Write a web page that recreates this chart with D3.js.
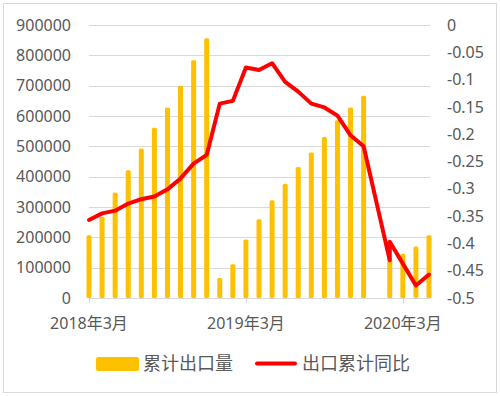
<!DOCTYPE html>
<html>
<head>
<meta charset="utf-8">
<script src="https://cdn.jsdelivr.net/npm/d3@7"></script>
<style>
  body { margin: 0; background: #fff; }
  svg text { font-family: "Noto Sans", "Noto Sans CJK SC", sans-serif; fill: #595959; }
</style>
</head>
<body>
<div id="chart"></div>
<script>
// months on the x axis (Excel date axis, one point per month)
const months = ["2018-03", "2018-04", "2018-05", "2018-06", "2018-07", "2018-08", "2018-09",
  "2018-10", "2018-11", "2018-12", "2019-01", "2019-02", "2019-03", "2019-04", "2019-05",
  "2019-06", "2019-07", "2019-08", "2019-09", "2019-10", "2019-11", "2019-12", "2020-01",
  "2020-02", "2020-03", "2020-04", "2020-05"];

// 累计出口量 (no value for 2020-01)
const exportTotal = [207000, 268000, 348000, 421000, 493000, 561000, 628000, 700000, 784000,
  856000, 66000, 111000, 193000, 260000, 322000, 377000, 432000, 480000, 531000, 586000,
  628000, 667000, null, 132000, 146000, 170000, 207000];

// 出口累计同比 (2020-02 appears twice in the source series)
const yoyMonths = ["2018-03", "2018-04", "2018-05", "2018-06", "2018-07", "2018-08", "2018-09",
  "2018-10", "2018-11", "2018-12", "2019-01", "2019-02", "2019-03", "2019-04", "2019-05",
  "2019-06", "2019-07", "2019-08", "2019-09", "2019-10", "2019-11", "2019-12",
  "2020-02", "2020-02", "2020-03", "2020-04", "2020-05"];
const yoyValues = [-0.357, -0.345, -0.340, -0.327, -0.319, -0.314, -0.301, -0.281, -0.254,
  -0.238, -0.144, -0.139, -0.078, -0.0825, -0.070, -0.104, -0.122, -0.144, -0.151, -0.166,
  -0.202, -0.222, -0.431, -0.397, -0.437, -0.477, -0.457];

const leftTicks = d3.range(0, 900001, 100000);
const rightTicks = d3.range(0, 11).map(i => -i * 0.05);
const xTickMonths = ["2018-03", "2019-03", "2020-03"];
const xTickLabels = ["2018年3月", "2019年3月", "2020年3月"];

const width = 500, height = 396;
const plot = { left: 89, right: 429, top: 25, bottom: 298 };

const monthIndex = m => {
  const [y, mo] = m.split("-").map(Number);
  return (y - 2018) * 12 + (mo - 3);
};

const x = d3.scaleLinear().domain([0, months.length - 1]).range([plot.left, plot.right]);
const yLeft = d3.scaleLinear().domain([0, 900000]).range([plot.bottom, plot.top]);
const yRight = d3.scaleLinear().domain([-0.5, 0]).range([plot.bottom, plot.top]);

const svg = d3.select("#chart").append("svg")
  .attr("width", width)
  .attr("height", height);

// chart frame
svg.append("rect")
  .attr("x", 3.5).attr("y", 3.5)
  .attr("width", 493).attr("height", 389)
  .attr("fill", "#fff")
  .attr("stroke", "#d9d9d9");

// gridlines from the left axis
svg.append("g")
  .selectAll("line")
  .data(leftTicks)
  .join("line")
  .attr("x1", plot.left).attr("x2", plot.right + 1)
  .attr("y1", d => Math.round(yLeft(d)) + 0.5)
  .attr("y2", d => Math.round(yLeft(d)) + 0.5)
  .attr("stroke", "#d9d9d9");

// x axis tick marks
svg.append("g")
  .selectAll("line")
  .data(xTickMonths)
  .join("line")
  .attr("x1", d => Math.round(x(monthIndex(d))) + 0.5)
  .attr("x2", d => Math.round(x(monthIndex(d))) + 0.5)
  .attr("y1", plot.bottom).attr("y2", plot.bottom + 5)
  .attr("stroke", "#d9d9d9");

// bars
const barW = 5;
svg.append("g")
  .selectAll("rect")
  .data(months.map((m, i) => ({ m, v: exportTotal[i] })).filter(d => d.v != null))
  .join("rect")
  .attr("x", d => x(monthIndex(d.m)) - barW / 2)
  .attr("width", barW)
  .attr("y", d => yLeft(d.v))
  .attr("height", d => yLeft(0) - yLeft(d.v))
  .attr("rx", 1.5)
  .attr("fill", "#ffc000");

// line
const line = d3.line()
  .x(d => x(monthIndex(d.m)))
  .y(d => yRight(d.v));

svg.append("path")
  .datum(yoyMonths.map((m, i) => ({ m, v: yoyValues[i] })))
  .attr("d", line)
  .attr("fill", "none")
  .attr("stroke", "#ff0000")
  .attr("stroke-width", 4)
  .attr("stroke-linejoin", "round")
  .attr("stroke-linecap", "round");

// left axis labels
svg.append("g")
  .selectAll("text")
  .data(leftTicks)
  .join("text")
  .attr("x", 71)
  .attr("y", d => yLeft(d))
  .attr("dy", "0.35em")
  .attr("text-anchor", "end")
  .attr("font-size", 16)
  .text(d => d);

// right axis labels
svg.append("g")
  .selectAll("text")
  .data(rightTicks)
  .join("text")
  .attr("x", 447)
  .attr("y", d => yRight(d))
  .attr("dy", "0.35em")
  .attr("font-size", 16)
  .text(d => String(+d.toFixed(2)));

// x axis labels
svg.append("g")
  .selectAll("text")
  .data(xTickMonths)
  .join("text")
  .attr("x", d => x(monthIndex(d)))
  .attr("y", 329)
  .attr("text-anchor", "middle")
  .attr("font-size", 16)
  .text((d, i) => xTickLabels[i]);

// legend
const legend = svg.append("g");
legend.append("rect")
  .attr("x", 96).attr("y", 357)
  .attr("width", 43).attr("height", 14)
  .attr("rx", 2)
  .attr("fill", "#ffc000");
legend.append("text")
  .attr("x", 143).attr("y", 364)
  .attr("dy", "0.35em")
  .attr("font-size", 18)
  .text("累计出口量");
legend.append("line")
  .attr("x1", 257).attr("x2", 295)
  .attr("y1", 363.5).attr("y2", 363.5)
  .attr("stroke", "#ff0000")
  .attr("stroke-width", 4)
  .attr("stroke-linecap", "round");
legend.append("text")
  .attr("x", 302).attr("y", 364)
  .attr("dy", "0.35em")
  .attr("font-size", 18)
  .text("出口累计同比");
</script>
</body>
</html>
